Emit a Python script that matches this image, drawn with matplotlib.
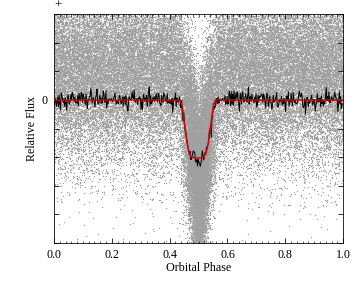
import numpy as np
import matplotlib.pyplot as plt
from matplotlib.ticker import MultipleLocator, FixedLocator, FixedFormatter

plt.rcParams['font.family'] = ['Liberation Serif', 'DejaVu Serif']

# transit model (phase, relative flux)
model_phase = [0.0, 0.436, 0.442, 0.448, 0.455, 0.462, 0.468, 0.474, 0.485, 0.497,
               0.510, 0.519, 0.526, 0.533, 0.540, 0.547, 0.553, 0.558, 1.0]
model_flux = [0.0, 0.0, -0.15, -0.55, -1.10, -1.60, -1.88, -1.98, -2.02, -2.03,
              -2.02, -1.97, -1.85, -1.55, -1.05, -0.50, -0.15, 0.0, 0.0]

# raw point cloud description (estimated from the grey points)
n_raw = 45000
n_extra = 9000
raw_offset = 1.1
raw_sigma = 1.65
raw_dip_depth = 4.4
raw_dip_halfwidth = 0.07
binned_scatter = 0.17
n_bins = 420

xticks = [0.0, 0.2, 0.4, 0.6, 0.8, 1.0]
yticks = [-5, -4, -3, -2, -1, 0, 1, 2, 3]
ytick_labels = ['', '', '', '', '', '0', '', '', '']

rng = np.random.default_rng(7)
ph = np.concatenate([rng.uniform(0, 1, n_raw),
                     np.clip(rng.normal(0.5, 0.024, n_extra), 0, 1)])
dip = -raw_dip_depth * np.clip(1 - np.abs(ph - 0.5) / raw_dip_halfwidth, 0, None)
flux = raw_offset + dip + rng.normal(0, raw_sigma, ph.size)

bin_ph = (np.arange(n_bins) + 0.5) / n_bins
bin_flux = np.interp(bin_ph, model_phase, model_flux) + rng.normal(0, binned_scatter, n_bins)

fig = plt.figure(figsize=(5, 4), dpi=72)
ax = fig.add_axes([0.15, 0.156, 0.803, 0.795])

ax.plot(ph, flux, ls='none', marker='s', ms=1.2, mew=0, color='#a0a0a0', zorder=1)
ax.plot(bin_ph, bin_flux, color='black', lw=1.0, zorder=2)
ax.plot(model_phase, model_flux, color='#e00000', lw=1.5, zorder=3)

ax.set_xlim(0, 1)
ax.set_ylim(-5, 3)
ax.xaxis.set_major_locator(FixedLocator(xticks))
ax.xaxis.set_minor_locator(MultipleLocator(0.02))
ax.yaxis.set_major_locator(FixedLocator(yticks))
ax.yaxis.set_major_formatter(FixedFormatter(ytick_labels))
ax.set_xticklabels(['%.1f' % t for t in xticks])
ax.tick_params(which='both', direction='in', top=True, right=True, labelsize=12, pad=6)
ax.tick_params(which='major', length=5)
ax.tick_params(which='minor', length=2.5)

ax.set_xlabel('Orbital Phase', fontsize=12, labelpad=1)
ax.set_ylabel('Relative Flux', fontsize=12, labelpad=4)
ax.text(0.0, 1.01, '+', transform=ax.transAxes, fontsize=13, va='bottom', ha='left')

fig.savefig('out.png', dpi=72)
